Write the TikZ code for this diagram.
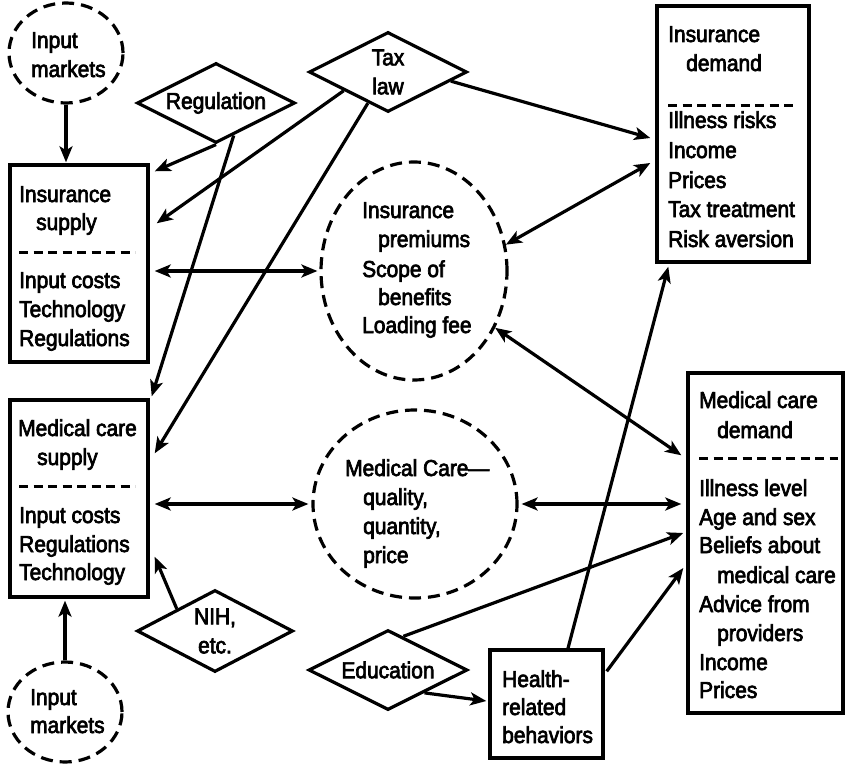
\documentclass[tikz,border=0pt]{standalone}
\usepackage{fontspec}
\setmainfont{Liberation Sans}[FakeStretch=0.91,FakeBold=3]
\usetikzlibrary{shapes.geometric,arrows.meta,calc}
\newcommand{\diafont}{\fontsize{23}{29}\selectfont}
\begin{document}
\begin{tikzpicture}[x=1pt,y=-1pt,
  box/.style={draw, line width=3.4pt, rectangle, inner sep=0pt},
  dashell/.style={draw, ellipse, line width=3.2pt, dash pattern=on 12pt off 7pt, inner sep=0pt},
  dia/.style={draw, diamond, shape aspect=2, line width=3.2pt, inner sep=0pt, align=center, font=\diafont},
  txt/.style={anchor=base west, inner sep=0pt, font=\diafont},
  divider/.style={line width=3pt, dash pattern=on 9pt off 5.5pt},
  arr/.style={line width=3.2pt, -{Stealth[length=16pt,width=13pt,inset=4pt]}},
  dbl/.style={line width=3.2pt, {Stealth[length=16pt,width=13pt,inset=4pt]}-{Stealth[length=16pt,width=13pt,inset=4pt]}},
]
\useasboundingbox (0,0) rectangle (846,765);

% ---- shapes ----
\node[dashell, minimum width=114pt, minimum height=100pt] (inA) at (66,53) {};
\node[dashell, minimum width=114pt, minimum height=100pt] (inB) at (65,712) {};
\node[box, minimum width=138pt, minimum height=197pt] (isup) at (79,263.5) {};
\node[box, minimum width=138pt, minimum height=197pt] (msup) at (79,498.5) {};
\node[box, minimum width=152pt, minimum height=256pt] (idem) at (733,134) {};
\node[box, minimum width=155pt, minimum height=340pt] (mdem) at (765.5,543) {};
\node[box, minimum width=113pt, minimum height=108pt] (hrb) at (546.5,704) {};
\node[dashell, minimum width=186pt, minimum height=218pt] (prem) at (414,271) {};
\node[dashell, minimum width=204pt, minimum height=188pt] (med) at (415,504) {};

\node[dia, minimum width=158pt, minimum height=80pt] (reg) at (216,103) {Regulation};
\node[dia, minimum width=158pt, minimum height=80pt] (tax) at (388,72) {Tax\\law};
\node[dia, minimum width=156pt, minimum height=82pt] (nih) at (215,631) {NIH,\\etc.};
\node[dia, minimum width=159pt, minimum height=80pt] (edu) at (388,670) {Education};

% ---- dividers ----
\draw[divider] (19,252) -- (135,252);
\draw[divider] (19,486) -- (135,486);
\draw[divider] (668,106) -- (798,106);
\draw[divider] (699,458) -- (838,458);

% ---- texts ----
\node[txt] (inA1) at (31,48) {Input};
\node[txt] (inA2) at (31,77) {markets};
\node[txt] (inB1) at (30,705) {Input};
\node[txt] (inB2) at (30,733) {markets};

\node[txt] (isup1) at (19,202) {Insurance};
\node[txt] (isup2) at (36,230) {supply};
\node[txt] (isup3) at (19,288) {Input costs};
\node[txt] (isup4) at (19,317) {Technology};
\node[txt] (isup5) at (19,346) {Regulations};

\node[txt] (msup1) at (18,436) {Medical care};
\node[txt] (msup2) at (37,465) {supply};
\node[txt] (msup3) at (19,523) {Input costs};
\node[txt] (msup4) at (19,552) {Regulations};
\node[txt] (msup5) at (19,580) {Technology};

\node[txt] (idem1) at (668,42) {Insurance};
\node[txt] (idem2) at (686,71) {demand};
\node[txt] (idem3) at (668,128) {Illness risks};
\node[txt] (idem4) at (668,158) {Income};
\node[txt] (idem5) at (668,188) {Prices};
\node[txt] (idem6) at (668,217) {Tax treatment};
\node[txt] (idem7) at (668,247) {Risk aversion};

\node[txt] (mdem1) at (699,408) {Medical care};
\node[txt] (mdem2) at (717,438) {demand};
\node[txt] (mdem3) at (699,496) {Illness level};
\node[txt] (mdem4) at (699,525) {Age and sex};
\node[txt] (mdem5) at (699,553) {Beliefs about};
\node[txt] (mdem6) at (717,583) {medical care};
\node[txt] (mdem7) at (699,612) {Advice from};
\node[txt] (mdem8) at (717,641) {providers};
\node[txt] (mdem9) at (699,670) {Income};
\node[txt] (mdem10) at (699,698) {Prices};

\node[txt] (hrb1) at (502,687) {Health-};
\node[txt] (hrb2) at (502,715) {related};
\node[txt] (hrb3) at (502,743) {behaviors};

\node[txt] (prem1) at (362,218) {Insurance};
\node[txt] (prem2) at (378,247) {premiums};
\node[txt] (prem3) at (362,277) {Scope of};
\node[txt] (prem4) at (378,305) {benefits};
\node[txt] (prem5) at (362,333) {Loading fee};

\node[txt] (med1) at (345,476) {Medical Care—};
\node[txt] (med2) at (363,505) {quality,};
\node[txt] (med3) at (363,534) {quantity,};
\node[txt] (med4) at (363,563) {price};

% ---- connectors ----
\draw[arr, shorten >=1pt] (inA.south) -- (inA.south |- isup.north);
\draw[arr, shorten >=2pt] (inB.north) -- (inB.north |- msup.south);
\draw[arr] (reg.south) -- ($(isup.north east)+(5,8)$);
\draw[arr] ($(tax.west)!0.45!(tax.south)$) -- ($(isup.north east)+(7,60)$);
\draw[arr] ($(reg.south)!0.22!(reg.east)$) -- ($(msup.north east)+(2,-2)$);
\draw[arr] ($(tax.south)!0.25!(tax.west)$) -- ($(msup.north east)+(5,55)$);
\draw[dbl] ($(isup.east |- prem.west)+(5,0)$) -- ($(prem.west)+(-2,0)$);
\draw[arr] ($(tax.east)!0.22!(tax.south)$) -- ($(idem.west)+(-5,4)$);
\draw[dbl] (prem.16) -- ($(idem.west)+(-5,29)$);
\draw[dbl] (prem.-35) -- ($(mdem.north west)+(-5,84)$);
\draw[dbl] ($(msup.east |- med.west)+(5,0)$) -- ($(med.west)+(-3,0)$);
\draw[dbl] ($(med.east)+(3,0)$) -- ($(mdem.west |- med.east)+(-5,0)$);
\draw[arr] ($(nih.north)!0.48!(nih.west)$) -- ($(msup.south east)+(5,-42)$);
\draw[arr] ($(edu.north)!0.19!(edu.east)$) -- ($(mdem.west)+(-3,-10)$);
\draw[arr] ($(edu.east)!0.55!(edu.south)$) -- ($(hrb.west)+(-2,-3)$);
\draw[arr] ($(hrb.north)+(21.5,0)$) -- ($(idem.south west)+(13,3)$);
\draw[arr] ($(hrb.north east)+(2,23)$) -- ($(mdem.west)+(-3,25)$);
\end{tikzpicture}
\end{document}
